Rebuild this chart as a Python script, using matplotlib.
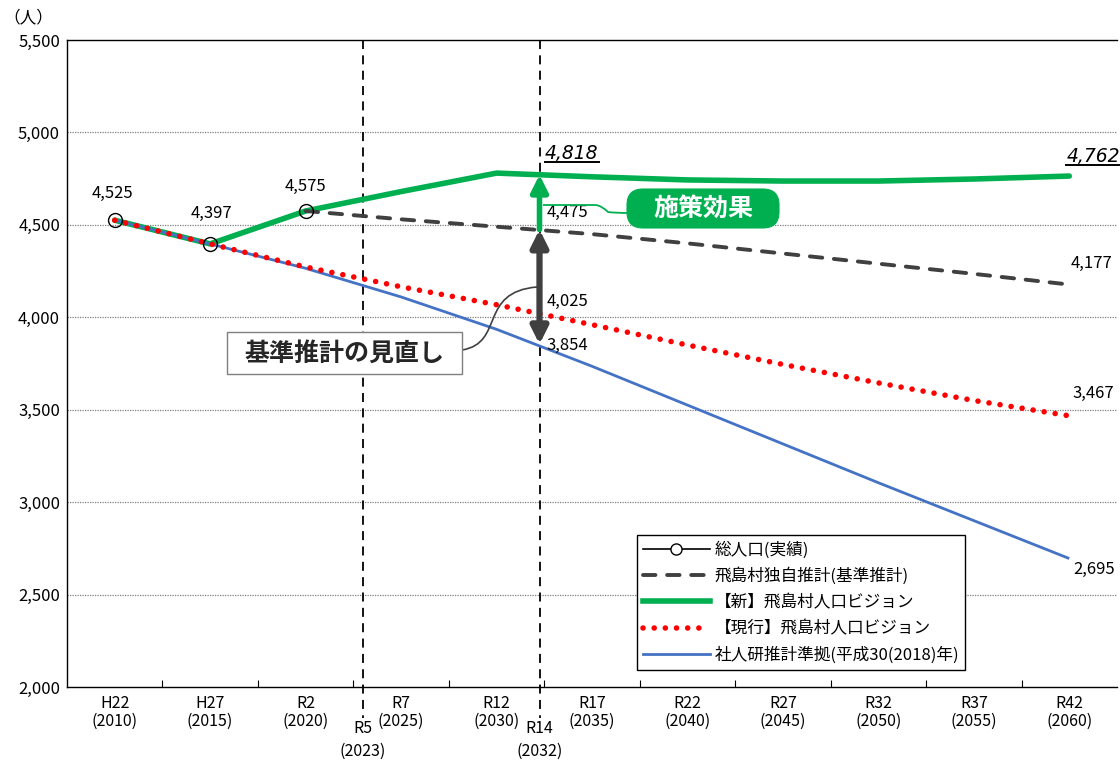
import matplotlib
matplotlib.use('Agg')
import matplotlib.pyplot as plt
from matplotlib.lines import Line2D
from matplotlib.path import Path
from matplotlib.patches import PathPatch, FancyBboxPatch
from matplotlib.transforms import IdentityTransform
import numpy as np

plt.rcParams['font.family'] = ['Noto Sans CJK JP', 'DejaVu Sans']

# ---------------- data ----------------
categories = ['H22\n(2010)', 'H27\n(2015)', 'R2\n(2020)', 'R7\n(2025)', 'R12\n(2030)',
              'R17\n(2035)', 'R22\n(2040)', 'R27\n(2045)', 'R32\n(2050)', 'R37\n(2055)',
              'R42\n(2060)']
years = [2010, 2015, 2020, 2025, 2030, 2035, 2040, 2045, 2050, 2055, 2060]

actual = [4525, 4397, 4575]                       # 2010-2020
base_proj = [4575, 4530, 4490, 4450, 4400, 4345, 4290, 4235, 4177]   # 2020-2060
new_vision = [4525, 4397, 4575, 4680, 4780, 4760, 4743, 4737, 4737, 4748, 4764]
current_vision = [4525, 4397, 4272, 4165, 4068, 3960, 3850, 3745, 3645, 3550, 3467]
ipss = [4525, 4397, 4265, 4110, 3935, 3735, 3525, 3315, 3105, 2900, 2695]

legend_labels = ['総人口(実績)', '飛島村独自推計(基準推計)', '【新】飛島村人口ビジョン',
                 '【現行】飛島村人口ビジョン', '社人研推計準拠(平成30(2018)年)']

yticks = [2000, 2500, 3000, 3500, 4000, 4500, 5000, 5500]
ytick_labels = ['2,000', '2,500', '3,000', '3,500', '4,000', '4,500', '5,000', '5,500']

vline_top = ['R5', 'R14']
vline_bottom = ['(2023)', '(2032)']
vline_pos = [2.6, 4.45]

val_2032_base = 4475
val_2032_current = 4025
val_2032_ipss = 3854
val_2032_new_label = '4,818'
val_2060_new_label = '4,762'

GREEN = '#00B050'
RED = '#FF0000'
BLUE = '#4472C4'
DGRAY = '#404040'

# ---------------- figure ----------------
fig = plt.figure(figsize=(11.2, 7.62), dpi=100)
L, R, T, B = 67, 1117, 40, 687
W, H = 1120, 762
ax = fig.add_axes([L / W, (H - B) / H, (R - L) / W, (B - T) / H])

x = np.arange(len(years))
x_base = x[2:]
x_act = x[:3]

ax.plot(x_act, actual, color='black', lw=1.0, zorder=2)
ax.plot(x, ipss, color=BLUE, lw=2.0, zorder=4, solid_capstyle='butt')
ax.plot(x, new_vision, color=GREEN, lw=4.0, zorder=3, solid_capstyle='round')
ax.plot(x, current_vision, color=RED, lw=4.0, linestyle=(0, (0.01, 2.0)),
        dash_capstyle='round', zorder=5)
ax.plot(x_base, base_proj, color=DGRAY, lw=2.8, linestyle=(0, (3.2, 3.0)),
        dash_capstyle='round', zorder=4)
ax.plot(x_act, actual, linestyle='none', marker='o', ms=10, mfc='none',
        mec='black', mew=1.0, zorder=7)

ax.set_xlim(-0.5, len(years) - 0.5)
ax.set_ylim(2000, 5500)
ax.set_yticks(yticks)
ax.set_yticklabels(ytick_labels, fontsize=12)
ax.set_xticks(x)
ax.set_xticklabels(categories, fontsize=11.5, linespacing=1.0)
ax.set_xticks(np.arange(len(years) - 1) + 0.5, minor=True)
ax.tick_params(axis='x', which='major', length=0, pad=6)
ax.tick_params(axis='x', which='minor', length=5, direction='in', width=0.8)
ax.tick_params(axis='y', length=0, pad=5)
for yv in yticks[1:-1]:
    ax.axhline(yv, color='#808080', lw=0.9, linestyle=(0, (1, 1)), zorder=1)
for s in ['left', 'bottom', 'top']:
    ax.spines[s].set_color('black')
    ax.spines[s].set_linewidth(1.0)
ax.spines['right'].set_visible(False)

# vertical reference lines and labels
for pos, lt, lb in zip(vline_pos, vline_top, vline_bottom):
    ax.plot([pos, pos], [1.0, -0.048], transform=ax.get_xaxis_transform(),
            color='black', lw=1.3, linestyle=(0, (5, 3.5)), clip_on=False, zorder=2)
    ax.text(pos, -0.064, lt, transform=ax.get_xaxis_transform(), ha='center',
            va='center', fontsize=11.5)
    ax.text(pos, -0.100, lb, transform=ax.get_xaxis_transform(), ha='center',
            va='center', fontsize=11.5)

ax.text(-0.037, 1.034, '（人）', transform=ax.transAxes, ha='center', va='center',
        fontsize=12)

# arrows at 2032
xa = vline_pos[1]
new_at = np.interp(xa, x, new_vision)
ax.annotate('', xy=(xa, val_2032_ipss), xytext=(xa, val_2032_base),
            arrowprops=dict(arrowstyle='<|-|>,head_length=1.0,head_width=0.5',
                            color=DGRAY, lw=4.5, shrinkA=0, shrinkB=0), zorder=6)
ax.annotate('', xy=(xa, new_at), xytext=(xa, val_2032_base),
            arrowprops=dict(arrowstyle='-|>,head_length=1.0,head_width=0.5',
                            color=GREEN, lw=4, shrinkA=0, shrinkB=0), zorder=6)

fs = 12


def lab(txt, xy, off, ha='center', **kw):
    return ax.annotate(txt, xy=xy, xytext=off, textcoords='offset points', ha=ha,
                       va='center', fontsize=fs, zorder=8, annotation_clip=False, **kw)


lab('4,525', (0, actual[0]), (-2, 19))
lab('4,397', (1, actual[1]), (1, 22))
lab('4,575', (2, actual[2]), (0, 18))
lab('4,475', (xa, val_2032_base), (5, 12), ha='left')
lab('4,025', (xa, val_2032_current), (5, 8), ha='left')
lab('3,854', (xa, val_2032_ipss), (5, -1), ha='left')
lab('4,177', (10, base_proj[-1]), (16, 15))
lab('3,467', (10, current_vision[-1]), (17, 16))
lab('2,695', (10, ipss[-1]), (18, -8))
IT = ['DejaVu Sans']
t1 = ax.annotate(val_2032_new_label, xy=(xa, new_at), xytext=(4, 15), textcoords='offset points',
                 ha='left', va='center', fontsize=13.5, family=IT, style='italic', zorder=8)
t2 = ax.annotate(val_2060_new_label, xy=(10, new_vision[-1]), xytext=(-2, 14),
                 textcoords='offset points', ha='left', va='center', fontsize=13.5,
                 family=IT, style='italic', zorder=8, annotation_clip=False)


def px(xp, yp):
    return ((xp - L) / (R - L), (B - yp) / (B - T))


def pix_box(x0, y0, x1, y1, style, fc, ec, lw):
    # figure pixel box (top-left origin)
    p = FancyBboxPatch((x0, H - y1), x1 - x0, y1 - y0, boxstyle=style, fc=fc, ec=ec, lw=lw,
                       transform=IdentityTransform(), zorder=9)
    fig.add_artist(p)


# 施策効果 box
pix_box(627, 189, 779, 228, 'round,pad=0,rounding_size=16', GREEN, GREEN, 0.8)
fig.text(703 / W, 1 - 209 / H, '施策効果', ha='center', va='center',
         fontsize=18, fontweight='bold', color='white', zorder=10)
ax.add_patch(PathPatch(Path([px(543, 205), px(596, 205), px(602, 206), px(608, 212),
                             px(614, 213), px(630, 213)],
                            [Path.MOVETO, Path.LINETO, Path.CURVE3, Path.CURVE3,
                             Path.CURVE3, Path.CURVE3]),
                       transform=ax.transAxes, fc='none', ec=GREEN, lw=1.3, zorder=8))

# 基準推計の見直し box
pix_box(227, 332, 462, 374, 'square,pad=0', 'white', '#7F7F7F', 1.0)
fig.text(344 / W, 1 - 354 / H, '基準推計の見直し', ha='center', va='center',
         fontsize=18, fontweight='bold', color='#262626', zorder=10)
cp = Path([px(462, 350), px(505, 343), px(478, 292), px(537, 287)],
          [Path.MOVETO, Path.CURVE4, Path.CURVE4, Path.CURVE4])
ax.add_patch(PathPatch(cp, transform=ax.transAxes, fc='none', ec='#404040', lw=1.2, zorder=8))

# legend
handles = [
    Line2D([], [], color='black', lw=1.2, marker='o', ms=8, mfc='white', mec='black'),
    Line2D([], [], color=DGRAY, lw=2.8, linestyle=(0, (3.2, 3.0)), dash_capstyle='round'),
    Line2D([], [], color=GREEN, lw=4.0),
    Line2D([], [], color=RED, lw=4.0, linestyle=(0, (0.01, 2.0)), dash_capstyle='round'),
    Line2D([], [], color=BLUE, lw=2.0),
]
leg = ax.legend(handles, legend_labels, loc='upper left', bbox_to_anchor=px(637, 535),
                bbox_transform=ax.transAxes, borderaxespad=0, fancybox=False,
                edgecolor='black', framealpha=1, fontsize=12, handlelength=4.0,
                labelspacing=0.55, handletextpad=0.3, borderpad=0.35)
leg.get_frame().set_linewidth(1.0)
leg.set_zorder(10)

# underline italic labels
fig.canvas.draw()
rend = fig.canvas.get_renderer()
for t in (t1, t2):
    bb = t.get_window_extent(rend)
    y0 = bb.y0 + 1
    fig.add_artist(Line2D([bb.x0 / W, min(bb.x1, W - 1) / W], [y0 / H, y0 / H],
                          color='black', lw=1.4))

fig.savefig('out.png', dpi=100)
